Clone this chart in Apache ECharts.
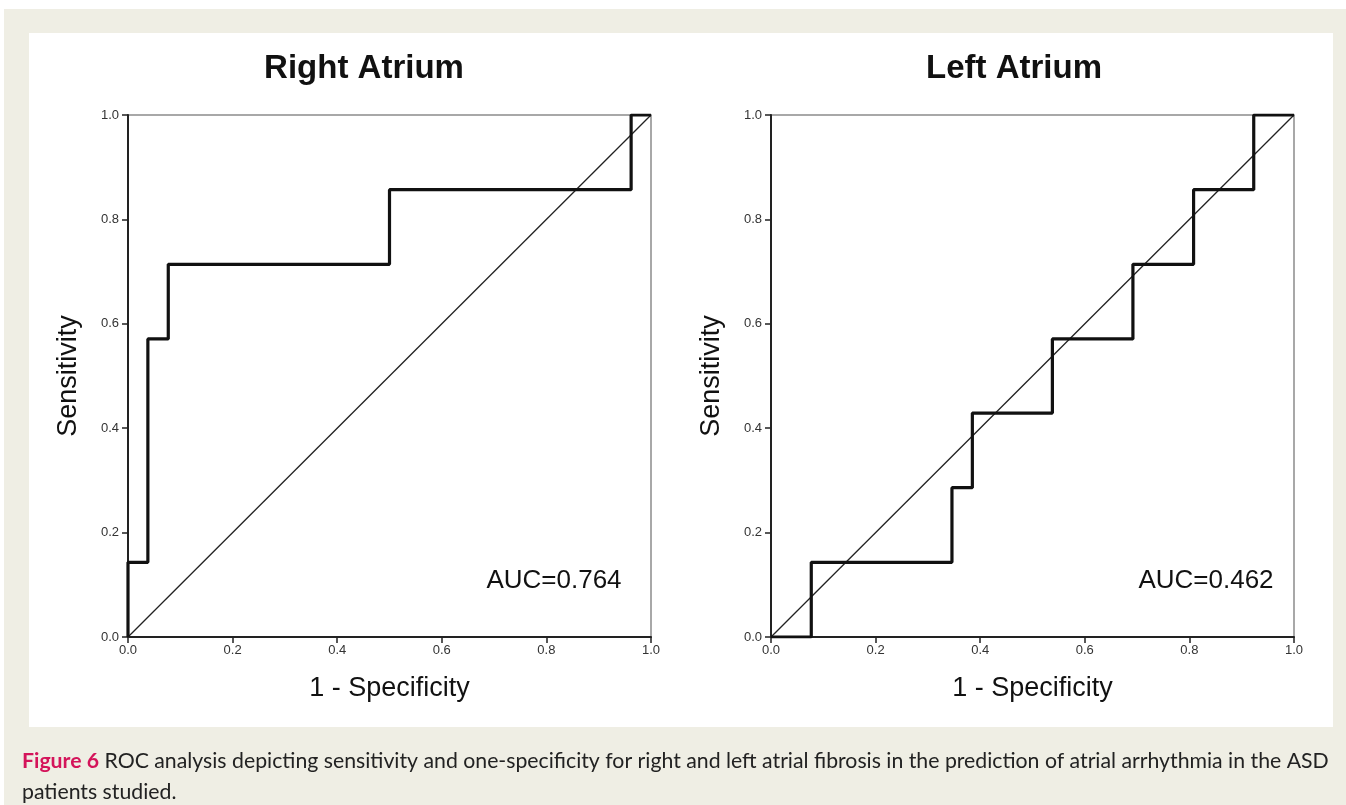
<!DOCTYPE html>
<html><head><meta charset="utf-8">
<script src="https://cdn.jsdelivr.net/npm/echarts@6/dist/echarts.min.js"></script>
<style>html,body{margin:0;padding:0;background:#fff}#c{width:1346px;height:805px}</style>
</head><body><div id="c"></div>
<script>
// ---- data ----
const tickValues = [0.0, 0.2, 0.4, 0.6, 0.8, 1.0];
const raFpr = [0, 0, 0.038, 0.077, 0.500, 0.962, 1];
const raTpr = [0, 0.143, 0.571, 0.714, 0.857, 1, 1];
const laFpr = [0, 0.077, 0.346, 0.385, 0.538, 0.692, 0.808, 0.923, 1];
const laTpr = [0, 0.143, 0.286, 0.429, 0.571, 0.714, 0.857, 1, 1];
const refFpr = [0, 1];
const refTpr = [0, 1];
const panelTitles = ['Right Atrium', 'Left Atrium'];
const aucLabels = ['AUC=0.764', 'AUC=0.462'];
const xName = '1 - Specificity';
const yName = 'Sensitivity';
const captionLead = 'Figure 6';
const captionLine1 = 'ROC analysis depicting sensitivity and one-specificity for right and left atrial fibrosis in the prediction of atrial arrhythmia in the ASD';
const captionLine2 = 'patients studied.';

// ---- build ----
const FONT = '"Liberation Sans", Arial, Helvetica, sans-serif';
const CAPFONT = 'Lato, "Open Sans", sans-serif';
const pairs = (xs, ys) => xs.map((x, i) => [x, ys[i]]);

const grids = [
  {left: 128, top: 115, width: 523, height: 522},
  {left: 771, top: 115, width: 523, height: 522}
];

function axisX(i) {
  return {
    type: 'value', gridIndex: i, min: 0, max: 1, interval: 0.2,
    name: xName, nameLocation: 'middle', nameGap: 38,
    nameTextStyle: {fontFamily: FONT, fontSize: 27, color: '#111'},
    axisLine: {show: true, lineStyle: {color: '#222', width: 2}},
    axisTick: {show: true, length: 6, lineStyle: {color: '#222', width: 1.5}},
    axisLabel: {fontFamily: FONT, fontSize: 13, color: '#333', margin: 7,
      formatter: v => v.toFixed(1)},
    splitLine: {show: false}
  };
}
function axisY(i) {
  return {
    type: 'value', gridIndex: i, min: 0, max: 1, interval: 0.2,
    name: yName, nameLocation: 'middle', nameGap: 46,
    nameTextStyle: {fontFamily: FONT, fontSize: 27, color: '#111'},
    axisLine: {show: true, lineStyle: {color: '#222', width: 2}},
    axisTick: {show: true, length: 6, lineStyle: {color: '#222', width: 1.5}},
    axisLabel: {fontFamily: FONT, fontSize: 13, color: '#333', margin: 9,
      formatter: v => v.toFixed(1)},
    splitLine: {show: false}
  };
}

function rocSeries(i, xs, ys) {
  return {type: 'line', xAxisIndex: i, yAxisIndex: i, data: pairs(xs, ys),
    step: 'end', symbol: 'none', silent: true, z: 4,
    lineStyle: {color: '#111', width: 3.2}};
}
function refSeries(i) {
  return {type: 'line', xAxisIndex: i, yAxisIndex: i, data: pairs(refFpr, refTpr),
    symbol: 'none', silent: true, z: 3,
    lineStyle: {color: '#222', width: 1.3}};
}

// caption font fit
function fitCaption(target) {
  const ctx = document.createElement('canvas').getContext('2d');
  let s = 22;
  for (; s > 12; s -= 0.25) {
    ctx.font = 'bold ' + s + 'px ' + CAPFONT;
    let w = ctx.measureText(captionLead + ' ').width;
    ctx.font = s + 'px ' + CAPFONT;
    w += ctx.measureText(captionLine1).width;
    if (w <= target) break;
  }
  return s;
}
const capSize = fitCaption(1312);

const chart = echarts.init(document.getElementById('c'), null, {renderer: 'canvas'});
chart.setOption({
  animation: false,
  backgroundColor: '#ffffff',
  grid: grids.map(g => Object.assign({show: true, borderColor: '#8c8c8c', borderWidth: 1.5,
    backgroundColor: 'transparent'}, g)),
  xAxis: [axisX(0), axisX(1)],
  yAxis: [axisY(0), axisY(1)],
  series: [refSeries(0), rocSeries(0, raFpr, raTpr), refSeries(1), rocSeries(1, laFpr, laTpr)],
  graphic: [
    {type: 'rect', z: -20, silent: true, shape: {x: 4, y: 9, width: 1342, height: 796},
      style: {fill: '#efeee4'}},
    {type: 'rect', z: -19, silent: true, shape: {x: 29, y: 33, width: 1304, height: 694},
      style: {fill: '#ffffff'}},
    {type: 'text', z: 50, x: 364, y: 69, style: {text: panelTitles[0], fontFamily: FONT,
      fontSize: 33, fontWeight: 'bold', fill: '#111', align: 'center', verticalAlign: 'middle'}},
    {type: 'text', z: 50, x: 1014, y: 69, style: {text: panelTitles[1], fontFamily: FONT,
      fontSize: 33, fontWeight: 'bold', fill: '#111', align: 'center', verticalAlign: 'middle'}},
    {type: 'text', z: 50, x: 554, y: 581, style: {text: aucLabels[0], fontFamily: FONT,
      fontSize: 26, fill: '#111', align: 'center', verticalAlign: 'middle'}},
    {type: 'text', z: 50, x: 1206, y: 581, style: {text: aucLabels[1], fontFamily: FONT,
      fontSize: 26, fill: '#111', align: 'center', verticalAlign: 'middle'}},
    {type: 'text', z: 50, x: 22, y: 751, style: {
      text: '{b|' + captionLead + '} ' + captionLine1,
      fontFamily: CAPFONT, fontSize: capSize, fill: '#222', align: 'left', verticalAlign: 'alphabetic',
      rich: {b: {fontFamily: CAPFONT, fontSize: capSize, fontWeight: 'bold', fill: '#d4145a'}}}},
    {type: 'text', z: 50, x: 22, y: 782, style: {
      text: captionLine2, fontFamily: CAPFONT, fontSize: capSize, fill: '#222',
      align: 'left', verticalAlign: 'alphabetic'}}
  ]
});
</script>
</body></html>
